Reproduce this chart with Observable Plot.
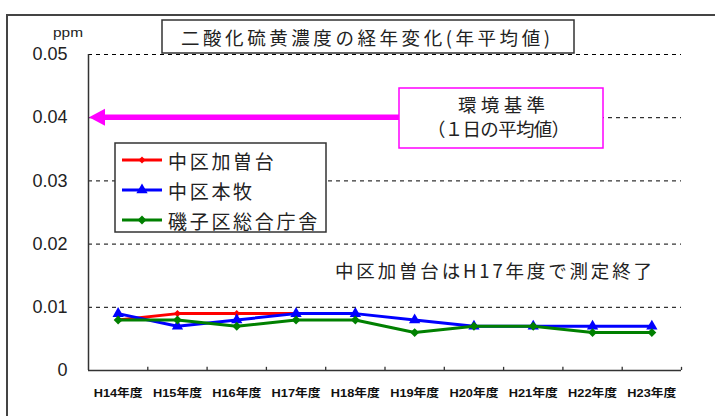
<!DOCTYPE html>
<html>
<head>
<meta charset="utf-8">
<script src="https://cdn.jsdelivr.net/npm/d3@7"></script>
<script src="https://cdn.jsdelivr.net/npm/@observablehq/plot@0.6"></script>
<style>
  html, body { margin: 0; padding: 0; background: #fff; }
  #chart { width: 715px; height: 416px; overflow: hidden; }
</style>
</head>
<body>
<div id="chart"></div>
<script>
// ---- data ----
const categories = ["H14年度","H15年度","H16年度","H17年度","H18年度","H19年度","H20年度","H21年度","H22年度","H23年度"];
const seriesNames = ["中区加曽台","中区本牧","磯子区総合庁舎"];
const kasodai = [0.008, 0.009, 0.009, 0.009, null, null, null, null, null, null];
const honmoku = [0.009, 0.007, 0.008, 0.009, 0.009, 0.008, 0.007, 0.007, 0.007, 0.007];
const isogo   = [0.008, 0.008, 0.007, 0.008, 0.008, 0.006, 0.007, 0.007, 0.006, 0.006];
const yTicks = [0, 0.01, 0.02, 0.03, 0.04, 0.05];
const standardValue = 0.04;
const titleText = "二酸化硫黄濃度の経年変化(年平均値)";
const standardLabel = ["環境基準", "（１日の平均値）"];
const noteText = "中区加曽台はH17年度で測定終了";
const unitLabel = "ppm";

// ---- styles ----
const colors = ["#ff0000", "#0000ff", "#008000"];
const symbols = ["diamond2", "triangle", "diamond2"];
const radii = [3.2, 4.2, 4.0];
const font = "'Liberation Sans', 'Noto Sans CJK JP', sans-serif";
const jpFont = "'Noto Sans CJK JP', sans-serif";

const seriesValues = [kasodai, honmoku, isogo];
const rows = seriesValues.map((vals, s) =>
  vals.map((v, i) => ({series: seriesNames[s], i, v})).filter(d => d.v != null)
);
const boundaries = d3.range(categories.length + 1).map(k => k - 0.5);

const seriesMarks = [];
rows.forEach((data, s) => {
  seriesMarks.push(Plot.line(data, {x: "i", y: "v", stroke: colors[s], strokeWidth: 3}));
  seriesMarks.push(Plot.dot(data, {x: "i", y: "v", symbol: symbols[s], fill: colors[s], r: radii[s], stroke: "none"}));
});

const chart = Plot.plot({
  width: 715,
  height: 416,
  marginLeft: 88,
  marginRight: 34,
  marginTop: 54,
  marginBottom: 46,
  style: {fontFamily: font, background: "#fff", color: "#222"},
  x: {type: "linear", domain: [-0.5, categories.length - 0.5], axis: null},
  y: {domain: [0, 0.05], axis: null},
  marks: [
    Plot.ruleY(yTicks.filter(d => d > 0), {stroke: "#000", strokeWidth: 1, strokeDasharray: "4,4"}),
    Plot.ruleX(boundaries.slice(1), {y1: 0, y2: 0.0005, stroke: "#333", strokeWidth: 1.3}),
    Plot.ruleX([-0.5], {stroke: "#333", strokeWidth: 1.5}),
    Plot.ruleY([0], {stroke: "#333", strokeWidth: 1.5}),
    Plot.text(yTicks, {x: -0.5, y: d => d, text: d => d === 0 ? "0" : d.toFixed(2), textAnchor: "end", dx: -21, fontSize: 18, fill: "#222"}),
    Plot.text(categories, {x: (d, i) => i, y: 0, dy: 23, text: d => d, fontSize: 11, fontWeight: "bold", fill: "#111"}),
    ...seriesMarks
  ]
});

document.getElementById("chart").appendChild(chart);

// ---- annotations ----
const svg = d3.select(chart);
const ys = chart.scale("y");
const y04 = ys.apply(standardValue);
const xAxisPx = chart.scale("x").apply(-0.5);

// category label widths
svg.selectAll("text").filter(function() { return categories.includes(this.textContent); })
  .attr("textLength", 49).attr("lengthAdjust", "spacingAndGlyphs");

const g = svg.append("g").attr("text-anchor", "start");

// outer frame
g.append("rect").attr("x", 7).attr("y", 15).attr("width", 800).attr("height", 500)
  .attr("fill", "none").attr("stroke", "#444").attr("stroke-width", 2);

// unit
g.append("text").attr("x", 68).attr("y", 37).attr("text-anchor", "middle")
  .attr("font-family", font).attr("font-size", 12).attr("fill", "#222")
  .attr("textLength", 30).attr("lengthAdjust", "spacingAndGlyphs").text(unitLabel);

// title box
g.append("rect").attr("x", 162).attr("y", 20).attr("width", 412).attr("height", 33)
  .attr("fill", "#fff").attr("stroke", "#333").attr("stroke-width", 1.5);
g.append("text").attr("x", 181).attr("y", 37).attr("text-anchor", "start").attr("dominant-baseline", "central")
  .attr("font-family", jpFont).attr("font-size", 18.5).attr("fill", "#222")
  .attr("textLength", 369).attr("lengthAdjust", "spacing").text(titleText);

// standard arrow + box
g.append("line").attr("x1", xAxisPx + 12).attr("x2", 400).attr("y1", y04).attr("y2", y04)
  .attr("stroke", "#ff00ff").attr("stroke-width", 5.5);
g.append("path").attr("d", `M${xAxisPx + 1},${y04} L${xAxisPx + 17},${y04 - 8.5} L${xAxisPx + 17},${y04 + 8.5} Z`)
  .attr("fill", "#ff00ff");
g.append("rect").attr("x", 399).attr("y", 88).attr("width", 204).attr("height", 60)
  .attr("fill", "#fff").attr("stroke", "#ff00ff").attr("stroke-width", 1.5);
g.append("text").attr("x", 458).attr("y", 104).attr("text-anchor", "start").attr("dominant-baseline", "central")
  .attr("font-family", jpFont).attr("font-size", 18.5).attr("fill", "#222")
  .attr("textLength", 87).attr("lengthAdjust", "spacing").text(standardLabel[0]);
g.append("text").attr("x", 427).attr("y", 128).attr("text-anchor", "start").attr("dominant-baseline", "central")
  .attr("font-family", jpFont).attr("font-size", 18.5).attr("fill", "#222")
  .attr("textLength", 143).attr("lengthAdjust", "spacing").text(standardLabel[1]);

// note
g.append("text").attr("x", 335).attr("y", 270).attr("text-anchor", "start").attr("dominant-baseline", "central")
  .attr("font-family", jpFont).attr("font-size", 18.5).attr("fill", "#222")
  .attr("textLength", 317).attr("lengthAdjust", "spacing").text(noteText);

// legend
g.append("rect").attr("x", 115).attr("y", 143).attr("width", 211).attr("height", 89)
  .attr("fill", "#fff").attr("stroke", "#333").attr("stroke-width", 1.5);
const symMap = {diamond2: d3.symbolDiamond2, triangle: d3.symbolTriangle};
seriesNames.forEach((name, s) => {
  const yy = 160 + s * 30;
  g.append("line").attr("x1", 122).attr("x2", 162).attr("y1", yy).attr("y2", yy)
    .attr("stroke", colors[s]).attr("stroke-width", 3);
  g.append("path").attr("transform", `translate(142,${yy})`)
    .attr("d", d3.symbol(symMap[symbols[s]], Math.PI * radii[s] * radii[s])())
    .attr("fill", colors[s]);
  g.append("text").attr("x", 168).attr("y", yy).attr("text-anchor", "start").attr("dominant-baseline", "central")
    .attr("font-family", jpFont).attr("font-size", 19).attr("fill", "#222")
    .attr("letter-spacing", 2.7).text(name);
});
</script>
</body>
</html>
